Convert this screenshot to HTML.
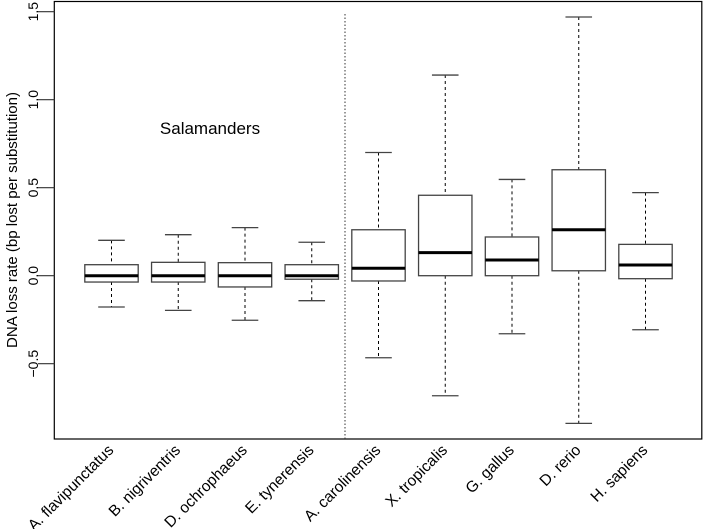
<!DOCTYPE html>
<html><head><meta charset="utf-8"><style>
html,body{margin:0;padding:0;background:#fff}
svg{display:block;font-family:"Liberation Sans",Arial,sans-serif}
</style></head><body>
<svg id="chart" width="703" height="529" viewBox="0 0 703 529" xmlns="http://www.w3.org/2000/svg">
<rect x="54.3" y="1.5" width="647.5" height="437.5" fill="none" stroke="#000" stroke-width="1.2"/>
<line x1="345" y1="14" x2="345" y2="439" stroke="#333" stroke-width="1" stroke-dasharray="1.5,2"/>
<text x="210" y="134" font-size="17" text-anchor="middle">Salamanders</text>
<text transform="translate(17,220) rotate(-90)" font-size="15" text-anchor="middle">DNA loss rate (bp lost per substitution)</text>
<g id="yaxis"></g>
<g id="boxes"></g>
<g id="xlabels"></g>
</svg>
<script>
const categories = ["A. flavipunctatus","B. nigriventris","D. ochrophaeus","E. tynerensis","A. carolinensis","X. tropicalis","G. gallus","D. rerio","H. sapiens"];
const whiskerLow = [-0.178,-0.197,-0.253,-0.142,-0.466,-0.682,-0.330,-0.839,-0.307];
const q1Values = [-0.036,-0.036,-0.064,-0.020,-0.030,0.0,0.0,0.028,-0.017];
const medians = [0.0,0.0,0.0,0.0,0.042,0.131,0.089,0.261,0.061];
const q3Values = [0.0625,0.076,0.074,0.0625,0.261,0.457,0.220,0.602,0.178];
const whiskerHigh = [0.201,0.233,0.273,0.190,0.700,1.140,0.547,1.470,0.472];
const yTicks = [-0.5,0.0,0.5,1.0,1.5];
const yTickLabels = ["\u22120.5","0.0","0.5","1.0","1.5"];

const NS="http://www.w3.org/2000/svg";
function yScale(v){return 275.7 - v*176;}
function xScale(i){return 111.5 + i*66.75;}
function mk(tag,attrs,parent){const e=document.createElementNS(NS,tag);for(const k in attrs)e.setAttribute(k,attrs[k]);parent.appendChild(e);return e;}
const ya=document.getElementById('yaxis');
yTicks.forEach((t,i)=>{
  const y=yScale(t);
  const l=mk('line',{x1:38,x2:54.3,y1:y,y2:y,stroke:'#333','stroke-width':1.2},ya);
  
  
  const tx=mk('text',{transform:`translate(38,${y}) rotate(-90)`,'font-size':14,'text-anchor':'middle'},ya);
  tx.textContent=yTickLabels[i];
  
  
});
const bx=document.getElementById('boxes');
const hw=26.7, cw=13.3;
categories.forEach((c,i)=>{
  const cx=xScale(i);
  const g=mk('g',{},bx);
  
  
  const st={stroke:'#000','stroke-width':1,'stroke-dasharray':'3,3'};
  mk('line',Object.assign({x1:cx,x2:cx,y1:yScale(whiskerHigh[i]),y2:yScale(q3Values[i])},st),g);
  mk('line',Object.assign({x1:cx,x2:cx,y1:yScale(q1Values[i]),y2:yScale(whiskerLow[i])},st),g);
  mk('line',{x1:cx-cw,x2:cx+cw,y1:yScale(whiskerHigh[i]),y2:yScale(whiskerHigh[i]),stroke:'#444','stroke-width':1.3},g);
  mk('line',{x1:cx-cw,x2:cx+cw,y1:yScale(whiskerLow[i]),y2:yScale(whiskerLow[i]),stroke:'#444','stroke-width':1.3},g);
  mk('rect',{x:cx-hw,y:yScale(q3Values[i]),width:2*hw,height:yScale(q1Values[i])-yScale(q3Values[i]),fill:'#fff',stroke:'#444','stroke-width':1.3},g);
  mk('line',{x1:cx-hw,x2:cx+hw,y1:yScale(medians[i]),y2:yScale(medians[i]),stroke:'#000','stroke-width':3},g);
});
const xl=document.getElementById('xlabels');
categories.forEach((c,i)=>{
  const cx=xScale(i);
  const t=mk('text',{transform:`translate(${cx+3},451) rotate(-45)`,'font-size':15.5,'text-anchor':'end'},xl);
  t.textContent=c;
  
  
});
</script>
</body></html>
